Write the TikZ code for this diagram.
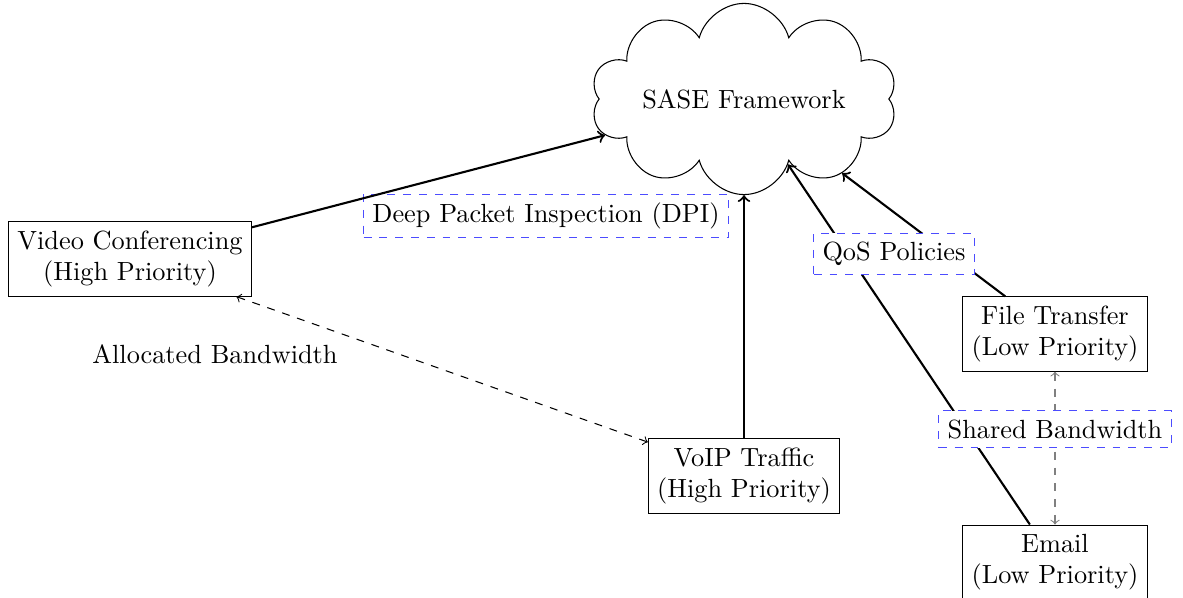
\documentclass[tikz,border=0pt]{standalone}
\usetikzlibrary{shapes.symbols}
\begin{document}
\begin{tikzpicture}[x=0.3802pt, y=-0.3802pt,
  flowbox/.style={draw, rectangle, align=center},
  cloudbox/.style={draw, cloud, cloud puffs=10, aspect=2.25, inner sep=0.3pt},
  policy/.style={draw=blue!70, dashed, fill=white, rectangle, text=black},
  traffic/.style={->, thick},
  shared/.style={<->, dashed}]
\useasboundingbox (0,0) rectangle (1183,598);

% core and traffic sources
\node[cloudbox] (sase) at (744,99) {SASE Framework};
\node[flowbox] (video) at (130,259) {Video Conferencing\\(High Priority)};
\node[flowbox] (voip) at (744,476) {VoIP Traffic\\(High Priority)};
\node[flowbox] (file) at (1055,334) {File Transfer\\(Low Priority)};
\node[flowbox] (email) at (1055,562) {Email\\(Low Priority)};

% inspection label sits beneath the traffic lines
\node[policy, fill=none] (dpi) at (546,216) {Deep Packet Inspection (DPI)};

% traffic into the framework
\draw[traffic] (video) -- (sase);
\draw[traffic] (voip) -- (sase);
\draw[traffic] (email) -- (sase);
\draw[traffic] (file) -- (sase);

% bandwidth relations
\draw[shared] (video) -- (voip);
\node (alloc) at (215,354) {Allocated Bandwidth};
\draw[shared, gray] (file.south) -- (email.north)
  node[midway, above, policy] (sharedbw) {Shared Bandwidth};

% policy label over the low-priority flows
\node[policy] (qos) at (894,254) {QoS Policies};
\end{tikzpicture}
\end{document}
